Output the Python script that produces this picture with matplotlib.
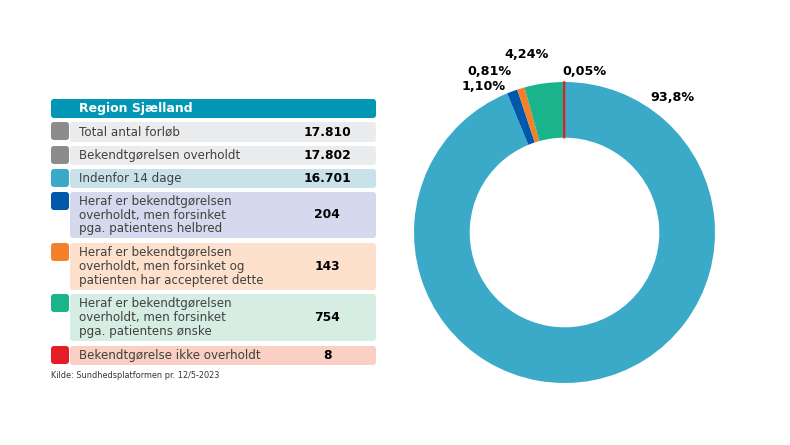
import matplotlib.pyplot as plt
from matplotlib.patches import FancyBboxPatch

# table data
header = "Region Sjælland"
row_labels = [
    "Total antal forløb",
    "Bekendtgørelsen overholdt",
    "Indenfor 14 dage",
    "Heraf er bekendtgørelsen\noverholdt, men forsinket\npga. patientens helbred",
    "Heraf er bekendtgørelsen\noverholdt, men forsinket og\npatienten har accepteret dette",
    "Heraf er bekendtgørelsen\noverholdt, men forsinket\npga. patientens ønske",
    "Bekendtgørelse ikke overholdt",
]
row_values = ["17.810", "17.802", "16.701", "204", "143", "754", "8"]
swatch_colors = ["#8c8c8c", "#8c8c8c", "#3aaac8", "#0058ac", "#f5802a", "#1ab48c", "#e41e26"]
row_bg = ["#ebecee", "#ebecee", "#c9e2ea", "#d5d9ee", "#fde1cc", "#d6ede3", "#f9d0c3"]
source = "Kilde: Sundhedsplatformen pr. 12/5-2023"

# donut data (clockwise from top)
donut_values = [16701, 204, 143, 754, 8]
donut_labels = ["93,8%", "1,10%", "0,81%", "4,24%", "0,05%"]
donut_colors = ["#3aaac8", "#0058ac", "#f5802a", "#1ab48c", "#e41e26"]

W, H = 790, 445
fig = plt.figure(figsize=(W / 100, H / 100), dpi=100)

# table drawn in pixel coordinates
tab = fig.add_axes([0, 0, 1, 1])
tab.set_xlim(0, W)
tab.set_ylim(H, 0)
tab.axis("off")

x0, x1 = 51, 376
tab.add_patch(FancyBboxPatch((x0, 99), x1 - x0, 19, boxstyle="round,pad=0,rounding_size=3",
                             fc="#0096b4", ec="none"))
tab.text(79, 108.5, header, color="white", fontsize=9, fontweight="bold", va="center")

row_tops = [122, 146, 169, 192, 243, 294, 346]
row_heights = [20, 19, 19, 46, 47, 47, 19]
for top, h, lab, val, sc, bg in zip(row_tops, row_heights, row_labels, row_values,
                                    swatch_colors, row_bg):
    tab.add_patch(FancyBboxPatch((70, top), x1 - 70, h, boxstyle="round,pad=0,rounding_size=3",
                                 fc=bg, ec="none"))
    tab.add_patch(FancyBboxPatch((x0, top), 18, 18, boxstyle="round,pad=0,rounding_size=3",
                                 fc=sc, ec="none"))
    tab.text(79, top + h / 2, lab, color="#404040", fontsize=8.6, va="center",
             linespacing=1.08)
    tab.text(327, top + h / 2, val, color="black", fontsize=8.8, fontweight="bold",
             va="center", ha="center")

tab.text(x0, 376, source, fontsize=5.9, color="#333333", va="center")

# donut
ax = fig.add_axes([414 / W, (H - 383) / H, 301 / W, 301 / H])
wedges, _ = ax.pie(donut_values, colors=donut_colors, startangle=90, counterclock=False,
                   radius=1, wedgeprops=dict(width=0.37, edgecolor="none"))
wedges[-1].set_edgecolor(donut_colors[-1])
wedges[-1].set_linewidth(1.2)
ax.set_xlim(-1, 1)
ax.set_ylim(-1, 1)
ax.set_aspect("auto")

label_pos = [(0.72, 0.90), (-0.54, 0.97), (-0.50, 1.07), (-0.25, 1.18), (0.13, 1.07)]
for lab, (lx, ly) in zip(donut_labels, label_pos):
    ax.text(lx, ly, lab, fontsize=9.2, fontweight="bold", ha="center", va="center",
            clip_on=False)

fig.savefig("out.png", dpi=100)
